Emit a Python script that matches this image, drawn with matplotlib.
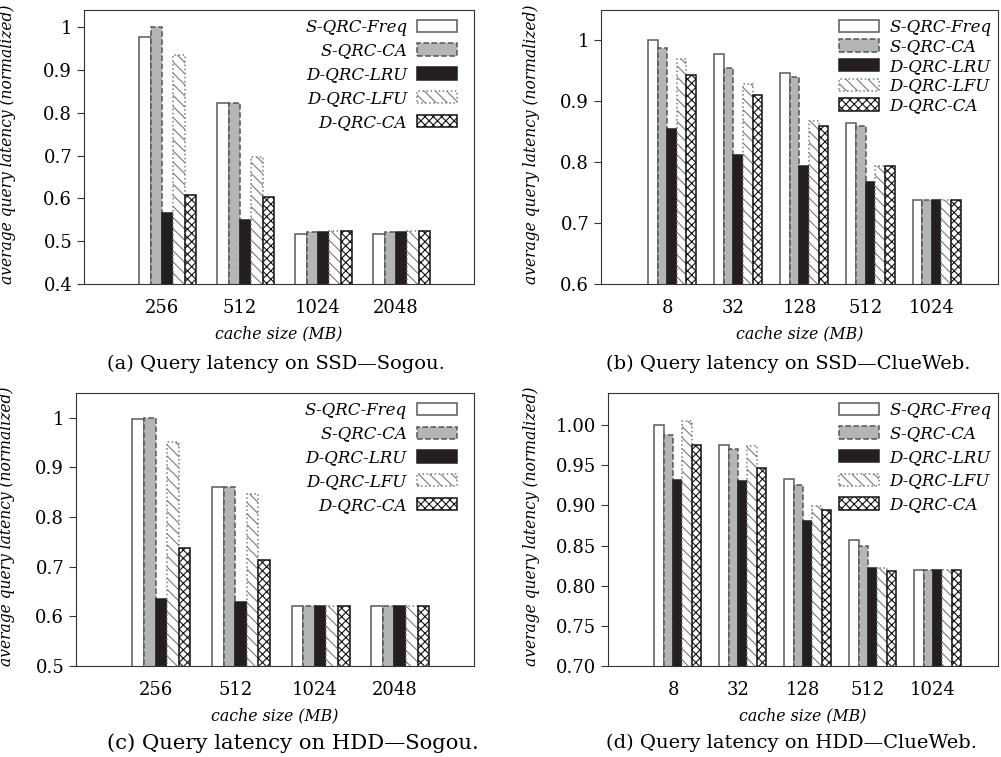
import numpy as np
import matplotlib
matplotlib.use('Agg')
import matplotlib.pyplot as plt
from matplotlib.ticker import FormatStrFormatter, FuncFormatter

# Data
series_names = ['S-QRC-Freq', 'S-QRC-CA', 'D-QRC-LRU', 'D-QRC-LFU', 'D-QRC-CA']

sogou_sizes = ['256', '512', '1024', '2048']
clueweb_sizes = ['8', '32', '128', '512', '1024']

# (a) SSD - Sogou, rows = cache size, cols = series
ssd_sogou = [[0.976, 1.000, 0.566, 0.934, 0.609],
             [0.822, 0.822, 0.549, 0.697, 0.603],
             [0.518, 0.522, 0.522, 0.524, 0.524],
             [0.518, 0.522, 0.522, 0.524, 0.524]]

# (b) SSD - ClueWeb
ssd_clueweb = [[1.000, 0.987, 0.855, 0.969, 0.943],
               [0.977, 0.954, 0.812, 0.929, 0.911],
               [0.946, 0.940, 0.794, 0.867, 0.859],
               [0.864, 0.859, 0.767, 0.793, 0.793],
               [0.738, 0.738, 0.738, 0.738, 0.738]]

# (c) HDD - Sogou
hdd_sogou = [[0.997, 1.000, 0.635, 0.952, 0.737],
             [0.860, 0.861, 0.629, 0.847, 0.713],
             [0.621, 0.621, 0.621, 0.621, 0.621],
             [0.621, 0.621, 0.621, 0.621, 0.621]]

# (d) HDD - ClueWeb
hdd_clueweb = [[1.000, 0.988, 0.932, 1.005, 0.975],
               [0.975, 0.970, 0.930, 0.974, 0.947],
               [0.933, 0.926, 0.880, 0.899, 0.894],
               [0.857, 0.850, 0.822, 0.822, 0.818],
               [0.819, 0.819, 0.819, 0.819, 0.819]]

captions = ['(a) Query latency on SSD\u2014Sogou.',
            '(b) Query latency on SSD\u2014ClueWeb.',
            '(c) Query latency on HDD\u2014Sogou.',
            '(d) Query latency on HDD\u2014ClueWeb.']

# Styles for each series
bar_styles = [
    dict(facecolor='white', edgecolor='#5a5a5a', linestyle='-', hatch=None),
    dict(facecolor='#b5b5b5', edgecolor='#555555', linestyle='--', hatch=None),
    dict(facecolor='#231f20', edgecolor='#231f20', linestyle='-', hatch=None),
    dict(facecolor='white', edgecolor='#7a7a7a', linestyle=':', hatch='\\\\\\'),
    dict(facecolor='white', edgecolor='#111111', linestyle='-', hatch='xxxx'),
]

plt.rcParams['font.family'] = 'DejaVu Serif'
plt.rcParams['hatch.linewidth'] = 0.8
plt.rcParams['axes.edgecolor'] = '#333333'

fig = plt.figure(figsize=(10.01, 7.57), dpi=100)

# axes rectangles in figure coordinates (left, bottom, width, height)
rects = [(0.0839, 0.6248, 0.3896, 0.3620),
         (0.6004, 0.6248, 0.3966, 0.3620),
         (0.0759, 0.1202, 0.3976, 0.3606),
         (0.6074, 0.1202, 0.3896, 0.3606)]
ylims = [(0.4, 1.04), (0.6, 1.05), (0.5, 1.05), (0.7, 1.04)]
yticks = [np.arange(0.4, 1.01, 0.1), np.arange(0.6, 1.01, 0.1),
          np.arange(0.5, 1.01, 0.1), np.arange(0.7, 1.001, 0.05)]
panel_data = [ssd_sogou, ssd_clueweb, hdd_sogou, hdd_clueweb]
panel_sizes = [sogou_sizes, clueweb_sizes, sogou_sizes, clueweb_sizes]
marker_first = [False, True, False, True]
label_spacing = [0.41, 0.16, 0.41, 0.40]
legend_anchor = [(0.974, 0.993), (1.0, 0.993), (0.974, 0.993), (1.0, 0.993)]
ylabel_x = [-0.174, -0.154, -0.153, -0.174]
caption_pos = [(107, 364), (606, 364), (107, 743), (606, 743)]
caption_size = [14, 14, 15.2, 14]

bar_w = 0.146

for k in range(4):
    ax = fig.add_axes(rects[k])
    data = np.array(panel_data[k])
    sizes = panel_sizes[k]
    x = np.arange(len(sizes))
    for i, name in enumerate(series_names):
        st = bar_styles[i]
        ax.bar(x + (i - 2) * bar_w, data[:, i], width=bar_w, align='edge',
               bottom=0, label=name, linewidth=1.1, **st)
    ax.set_xlim(-1, len(sizes))
    ax.set_ylim(*ylims[k])
    ax.set_xticks(x)
    ax.set_xticklabels(sizes)
    ax.set_yticks(yticks[k])
    if k == 3:
        ax.yaxis.set_major_formatter(FormatStrFormatter('%.2f'))
    else:
        ax.yaxis.set_major_formatter(FuncFormatter(lambda v, p: '%g' % round(v, 2)))
    ax.tick_params(axis='x', length=0, labelsize=13, pad=11)
    ax.tick_params(axis='y', length=5, labelsize=13, color='#333333')
    ax.set_xlabel('cache size (MB)', style='italic', fontsize=11.3, labelpad=6)
    ax.set_ylabel('average query latency (normalized)', style='italic',
                  fontsize=11.2)
    ax.yaxis.set_label_coords(ylabel_x[k], 0.51)
    leg = ax.legend(loc='upper right', bbox_to_anchor=legend_anchor[k],
                    frameon=False, fontsize=12,
                    markerfirst=marker_first[k], handlelength=2.4,
                    handleheight=0.75, labelspacing=label_spacing[k],
                    borderaxespad=0.0, borderpad=0.4, handletextpad=0.6)
    for t in leg.get_texts():
        t.set_style('italic')
    fig.text(caption_pos[k][0] / 1001, 1 - caption_pos[k][1] / 757, captions[k],
             fontsize=caption_size[k], ha='left', va='center')

fig.savefig('out.png', dpi=100)
